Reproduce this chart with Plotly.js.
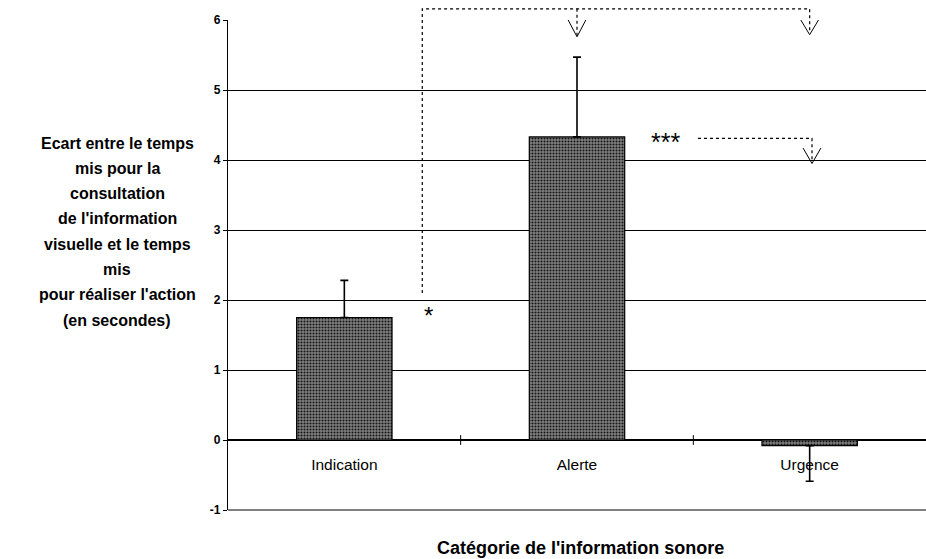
<!DOCTYPE html>
<html>
<head>
<meta charset="utf-8">
<script src="https://cdn.plot.ly/plotly-3.0.1.min.js"></script>
<style>html,body{margin:0;padding:0;background:#fff;}#chart{width:926px;height:559px;}</style>
</head>
<body>
<div id="chart"></div>
<script>
// ---- data ----
const categories = ["Indication", "Alerte", "Urgence"];
const ecart = [1.75, 4.33, -0.08];
const errUp = [0.53, 1.14, 0];
const errDown = [0, 0, 0.51];
const yTicks = [-1, 0, 1, 2, 3, 4, 5, 6];
const yTitleLines = ["Ecart entre le temps", "mis pour la", "consultation", "de l'information",
  "visuelle et le temps", "mis", "pour réaliser l'action", "(en secondes)"];
const xTitle = "Catégorie de l'information sonore";
const sigLabels = ["*", "***"];

const FONT = "Liberation Sans, Arial, sans-serif";
// category index -> paper x (range -0.5..2.5); y value -> paper y (range -1..6)
const xp = v => (v + 0.5) / 3;
const yp = v => (v + 1) / 7;

const trace = {
  type: "bar",
  x: categories,
  y: ecart,
  marker: {
    color: "#747474",
    line: {color: "#000", width: 1.2},
    pattern: {shape: ".", bgcolor: "#828282", fgcolor: "#151515", size: 3, solidity: 0.4}
  },
  error_y: {type: "data", symmetric: false, array: errUp, arrayminus: errDown,
    color: "#000", thickness: 1.6, width: 4},
  width: 0.41,
  hoverinfo: "none"
};

const dash = {color: "#000", width: 1.2, dash: "3px,3px"};
const solid = {color: "#000", width: 1};
const P = (pts) => "M " + pts.map(p => xp(p[0]) + " " + yp(p[1])).join(" L ");
const shapes = [
  // category boundary tick marks crossing the zero line
  {type: "line", xref: "paper", yref: "paper", x0: xp(0.5), x1: xp(0.5), y0: yp(-0.07), y1: yp(0.07), line: solid},
  {type: "line", xref: "paper", yref: "paper", x0: xp(1.5), x1: xp(1.5), y0: yp(-0.07), y1: yp(0.07), line: solid},
  // significance bracket Indication vs Alerte/Urgence
  {type: "path", xref: "paper", yref: "paper",
   path: P([[0.335, 2.1], [0.335, 6.16], [2.0, 6.16], [2.0, 5.85]]), line: dash},
  {type: "path", xref: "paper", yref: "paper", path: P([[1.0, 6.16], [1.0, 5.78]]), line: dash},
  // open arrowheads
  {type: "path", xref: "paper", yref: "paper", path: P([[0.962, 6.0], [1.0, 5.76], [1.038, 6.0]]), line: solid},
  {type: "path", xref: "paper", yref: "paper", path: P([[1.962, 6.0], [2.0, 5.79], [2.038, 6.0]]), line: solid},
  // Alerte vs Urgence
  {type: "path", xref: "paper", yref: "paper", path: P([[1.52, 4.31], [2.01, 4.31], [2.01, 3.98]]), line: dash},
  {type: "path", xref: "paper", yref: "paper", path: P([[1.972, 4.17], [2.01, 3.95], [2.048, 4.17]]), line: solid},
  // bottom frame line at -1
  {type: "line", xref: "paper", yref: "paper", x0: 0, x1: 1, y0: 0, y1: 0, line: solid}
];

const annotations = [];
yTitleLines.forEach((t, i) => {
  const yc = 143 + i * 25.3;
  annotations.push({xref: "paper", yref: "paper", x: (117 - 228) / 698, y: (510 - yc) / 490,
    xanchor: "center", yanchor: "middle", showarrow: false, text: "<b>" + t + "</b>",
    font: {family: FONT, size: 16, color: "#000"}});
});
annotations.push({xref: "paper", yref: "paper", x: (580 - 228) / 698, y: (510 - 548) / 490,
  xanchor: "center", yanchor: "middle", showarrow: false, text: "<b>" + xTitle + "</b>",
  font: {family: FONT, size: 18, color: "#000"}});
annotations.push({xref: "paper", yref: "paper", x: xp(0.36), y: yp(1.78), xanchor: "center", yanchor: "middle",
  showarrow: false, text: sigLabels[0], font: {family: FONT, size: 24, color: "#000"}});
annotations.push({xref: "paper", yref: "paper", x: xp(1.38), y: yp(4.26), xanchor: "center", yanchor: "middle",
  showarrow: false, text: sigLabels[1], font: {family: FONT, size: 25, color: "#000"}});

const layout = {
  width: 926, height: 559,
  margin: {l: 228, r: 0, t: 20, b: 49},
  paper_bgcolor: "#fff", plot_bgcolor: "#fff",
  showlegend: false,
  bargap: 0.59,
  font: {family: FONT, color: "#000"},
  xaxis: {
    type: "category", range: [-0.5, 2.5], anchor: "free", position: 1 / 7,
    showline: false, showgrid: false, zeroline: false, ticks: "",
    ticklabelstandoff: 13,
    tickfont: {family: FONT, size: 15.5, color: "#000"}
  },
  yaxis: {
    range: [-1, 6], tickvals: yTicks, ticktext: yTicks.map(String),
    showline: true, linecolor: "#000", linewidth: 1.2,
    ticks: "outside", ticklen: 4, tickcolor: "#000",
    showgrid: true, gridcolor: "#000", gridwidth: 1,
    zeroline: true, zerolinecolor: "#000", zerolinewidth: 1.2,
    tickfont: {family: FONT, size: 12, color: "#000", weight: "bold"}
  },
  shapes: shapes,
  annotations: annotations
};

Plotly.newPlot("chart", [trace], layout, {displayModeBar: false, staticPlot: true});
</script>
</body>
</html>
